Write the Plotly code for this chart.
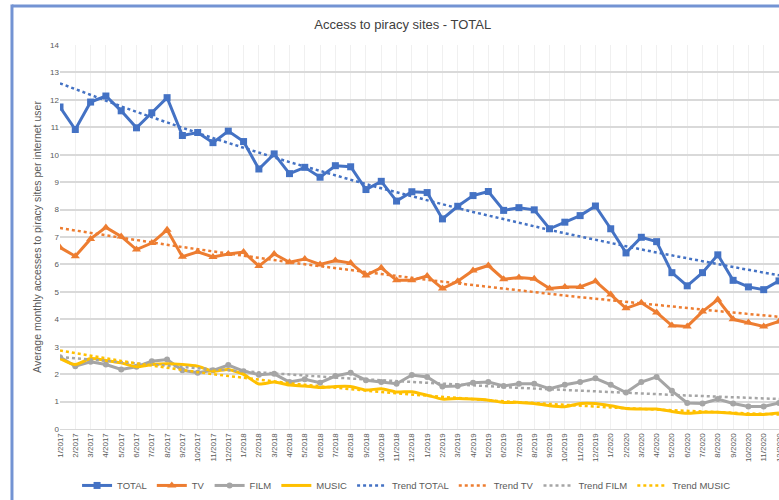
import numpy as np
import plotly.graph_objects as go

months = [f"{m}/{y}" for y in (2017, 2018, 2019, 2020) for m in range(1, 13)]

total = [11.74, 10.92, 11.92, 12.14, 11.60, 10.98, 11.53, 12.08, 10.70, 10.81, 10.44, 10.86,
         10.48, 9.48, 10.03, 9.31, 9.54, 9.18, 9.60, 9.56, 8.73, 9.03, 8.31, 8.65,
         8.62, 7.66, 8.12, 8.51, 8.66, 7.97, 8.07, 7.99, 7.30, 7.54, 7.78, 8.13,
         7.30, 6.42, 6.99, 6.83, 5.70, 5.22, 5.70, 6.35, 5.42, 5.18, 5.08, 5.40]
tv = [6.62, 6.30, 6.93, 7.35, 7.02, 6.54, 6.78, 7.26, 6.28, 6.46, 6.27, 6.38,
      6.45, 5.94, 6.38, 6.08, 6.20, 6.00, 6.14, 6.05, 5.60, 5.88, 5.42, 5.42,
      5.58, 5.12, 5.39, 5.78, 5.96, 5.46, 5.52, 5.48, 5.12, 5.18, 5.18, 5.39,
      4.90, 4.40, 4.60, 4.25, 3.77, 3.74, 4.28, 4.72, 4.00, 3.88, 3.74, 3.92]
film = [2.62, 2.29, 2.45, 2.35, 2.17, 2.27, 2.47, 2.53, 2.14, 2.05, 2.14, 2.33,
        2.11, 1.98, 2.01, 1.71, 1.81, 1.69, 1.93, 2.05, 1.78, 1.71, 1.65, 1.97,
        1.90, 1.55, 1.57, 1.69, 1.71, 1.57, 1.65, 1.65, 1.47, 1.61, 1.71, 1.85,
        1.61, 1.33, 1.71, 1.90, 1.39, 0.95, 0.93, 1.09, 0.93, 0.82, 0.82, 0.95]
music = [2.57, 2.35, 2.57, 2.50, 2.41, 2.27, 2.35, 2.38, 2.35, 2.29, 2.11, 2.17,
         1.99, 1.64, 1.71, 1.60, 1.57, 1.51, 1.55, 1.55, 1.42, 1.47, 1.35, 1.36,
         1.23, 1.09, 1.11, 1.09, 1.05, 0.97, 0.97, 0.93, 0.85, 0.81, 0.93, 0.93,
         0.85, 0.75, 0.73, 0.73, 0.64, 0.57, 0.61, 0.61, 0.57, 0.53, 0.53, 0.58]

series = [
    ("TOTAL", total, "#4472C4", "square", 7),
    ("TV", tv, "#ED7D31", "triangle-up", 8),
    ("FILM", film, "#A5A5A5", "circle", 6),
    ("MUSIC", music, "#FFC000", None, 0),
]

fig = go.Figure()
for name, vals, col, sym, sz in series:
    if sym:
        fig.add_trace(go.Scatter(x=months, y=vals, name=name, mode="lines+markers",
                                 line=dict(color=col, width=3),
                                 marker=dict(symbol=sym, size=sz, color=col)))
    else:
        fig.add_trace(go.Scatter(x=months, y=vals, name=name, mode="lines",
                                 line=dict(color=col, width=3, shape="spline", smoothing=0.6)))

# Exponential trendlines (as Excel), fitted from the series data
xi = np.arange(1, len(months) + 1)
for name, vals, col, sym, sz in series:
    b, a = np.polyfit(xi, np.log(np.array(vals)), 1)
    trend = np.exp(a + b * xi)
    fig.add_trace(go.Scatter(x=months, y=trend, name="Trend " + name, mode="lines",
                             line=dict(color=col, width=2.5, dash="dot")))

border = "#7393D3"
fig.add_shape(type="line", xref="paper", yref="paper", x0=-0.0668, x1=1.0, y0=1.1015, y1=1.1015,
              line=dict(color=border, width=3))
fig.add_shape(type="line", xref="paper", yref="paper", x0=-0.0668, x1=-0.0668, y0=1.1055, y1=-0.2,
              line=dict(color=border, width=3))

fig.update_layout(
    width=779, height=500,
    margin=dict(l=60, r=0, t=44.5, b=66.5),
    paper_bgcolor="white", plot_bgcolor="white",
    font=dict(family="Liberation Sans, Arial, sans-serif", color="#595959"),
    title=dict(text="Access to piracy sites - TOTAL", x=0.517, xanchor="center",
               y=0.951, yanchor="middle", font=dict(size=13, color="#404040")),
    showlegend=True,
    legend=dict(orientation="h", x=0.482, xanchor="center", y=-0.147, yanchor="middle",
                font=dict(size=9.5, color="#595959"), itemwidth=30, tracegroupgap=0),
)
fig.update_xaxes(type="category", range=[0, 47], showgrid=True, gridcolor="#F0F0F0", gridwidth=1,
                 tickangle=-90, tickfont=dict(size=8, color="#595959"), ticks="",
                 showline=True, linecolor="#D9D9D9", zeroline=False, automargin=False)
fig.update_yaxes(range=[0, 14], dtick=1, showgrid=True, gridcolor="#D9D9D9", gridwidth=1.5,
                 tickfont=dict(size=8, color="#595959"), zeroline=False, showline=False,
                 automargin=False,
                 title=dict(text="Average monthly accesses to piracy sites per internet user",
                            font=dict(size=10.5, color="#595959"), standoff=6))

fig.write_html("out.html", config={"displayModeBar": False},
               post_script="document.body.style.margin='0';")
